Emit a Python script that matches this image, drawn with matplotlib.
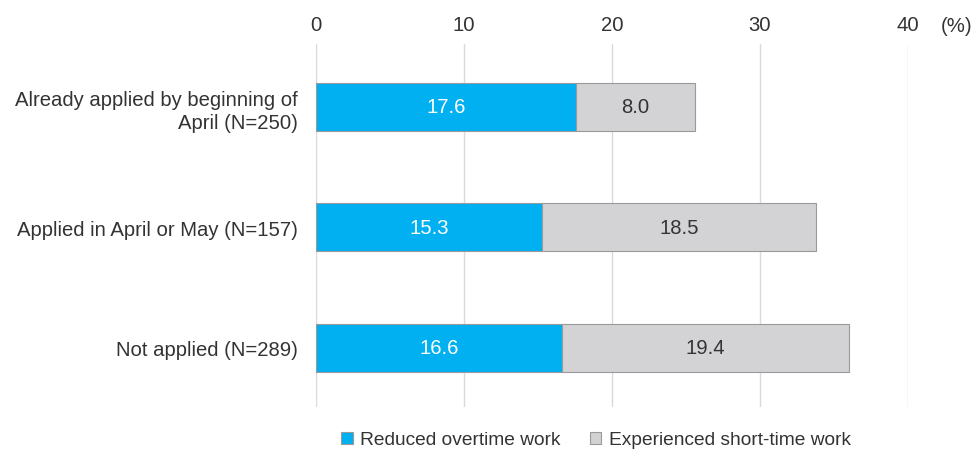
import matplotlib.pyplot as plt

plt.rcParams['font.family'] = ['Liberation Sans', 'DejaVu Sans']

categories = ['Already applied by beginning of\nApril (N=250)',
              'Applied in April or May (N=157)',
              'Not applied (N=289)']
reduced_overtime = [17.6, 15.3, 16.6]
short_time = [8.0, 18.5, 19.4]
series_names = ['Reduced overtime work', 'Experienced short-time work']

blue = '#00b0f0'
gray = '#d3d3d5'
text_col = '#333333'
fs = 14.6

fig = plt.figure(figsize=(9.73, 4.52), dpi=100)
ax = fig.add_axes([316 / 973, 1 - 408 / 452, (908 - 316) / 973, (408 - 45) / 452])

ypos = list(range(len(categories)))
b1 = ax.barh(ypos, reduced_overtime, height=0.4, color=blue, edgecolor='#9a9a9a',
             linewidth=0.8, label=series_names[0], zorder=3)
b2 = ax.barh(ypos, short_time, left=reduced_overtime, height=0.4, color=gray,
             edgecolor='#9a9a9a', linewidth=0.8, label=series_names[1], zorder=3)

for i in ypos:
    ax.text(reduced_overtime[i] / 2, i, f'{reduced_overtime[i]:.1f}', ha='center',
            va='center', color='white', fontsize=fs, zorder=4)
    ax.text(reduced_overtime[i] + short_time[i] / 2, i, f'{short_time[i]:.1f}',
            ha='center', va='center', color=text_col, fontsize=fs, zorder=4)

ax.set_xlim(0, 40)
ax.set_ylim(2.49, -0.52)
ax.set_xticks([0, 10, 20, 30, 40])
ax.xaxis.tick_top()
ax.tick_params(axis='x', length=0, pad=7, labelsize=fs, labelcolor=text_col)
ax.tick_params(axis='y', length=0, pad=13, labelsize=fs, labelcolor=text_col)
ax.set_yticks(ypos)
ax.set_yticklabels(categories, ha='right', linespacing=1.3)
ax.grid(axis='x', color='#d9d9d9', linewidth=1, zorder=0)
for s in ax.spines.values():
    s.set_visible(False)

ax.text(957 / 973, 1 - 27 / 452, '(%)', transform=fig.transFigure, ha='center',
        va='center', fontsize=fs, color=text_col)

fig.legend(handles=[b1, b2], loc='center', bbox_to_anchor=(596 / 973, 1 - 441 / 452),
           ncol=2, frameon=False, fontsize=13.8, handlelength=0.6, handleheight=0.6,
           handletextpad=0.4, columnspacing=1.5, labelcolor=text_col)

fig.savefig('out.png', dpi=100)
